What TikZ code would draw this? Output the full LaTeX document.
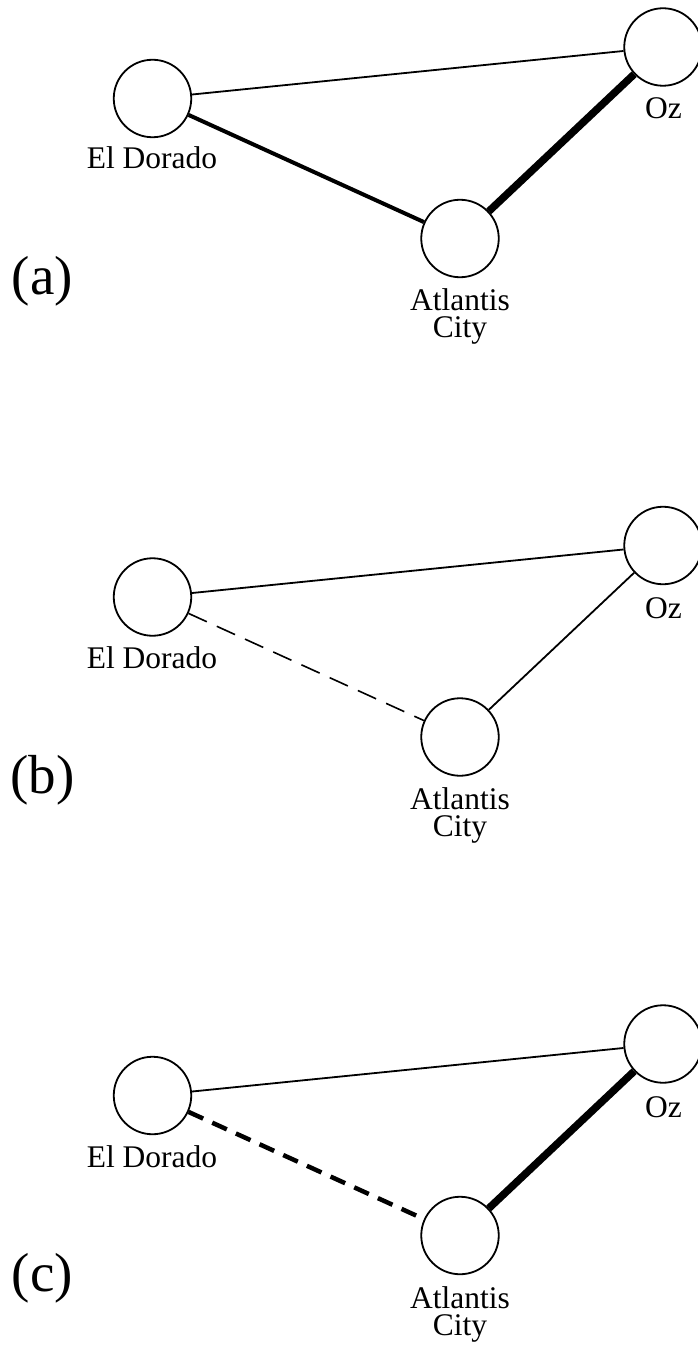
\documentclass[tikz,border=0pt]{standalone}
\usepackage{fontspec}
\setmainfont{Liberation Serif}

\begin{document}
\begin{tikzpicture}[x=1pt,y=-1pt,font=\fontsize{31.5}{27}\selectfont,
city/.style={draw,circle,minimum size=77.5pt,inner sep=0,line width=1.8pt,fill=white},
road/.style={line width=1.8pt},wide/.style={line width=4pt},heavy/.style={line width=7.5pt},
trail/.style={line width=1.6pt,dash pattern=on 20pt off 11pt},heavytrail/.style={line width=4.5pt,dash pattern=on 16pt off 10pt},
tag/.style={anchor=base,inner sep=0,align=center},part/.style={anchor=base,inner sep=0,font=\fontsize{55}{60}\selectfont}]
\useasboundingbox (0,0) rectangle (697,1351);
% (a)
\node[city] (ed1) at (152.5,98.5){}; \node[city] (ac1) at (460,238.5){}; \node[city] (oz1) at (663,47){};
\draw[road] (ed1)--(oz1); \draw[wide] (ed1)--(ac1); \draw[heavy] (ac1)--(oz1);
\node[tag] (edl1) at (152,169){El Dorado}; \node[tag] (ozl1) at (663.5,119){Oz}; \node[tag] (acl1) at (460,337){Atlantis\\City}; \node[part] (pa) at (42.5,294){(a)};
% (b)
\node[city] (ed2) at (152.5,597){}; \node[city] (ac2) at (460,737){}; \node[city] (oz2) at (663,545.5){};
\draw[road] (ed2)--(oz2); \draw[trail] (ed2)--(ac2); \draw[road] (ac2)--(oz2);
\node[tag] (edl2) at (152,668){El Dorado}; \node[tag] (ozl2) at (663.5,618){Oz}; \node[tag] (acl2) at (460,836){Atlantis\\City}; \node[part] (pb) at (42.5,793){(b)};
% (c)
\node[city] (ed3) at (152.5,1095.5){}; \node[city] (ac3) at (460,1235.5){}; \node[city] (oz3) at (663,1044){};
\draw[road] (ed3)--(oz3); \draw[heavytrail] (ed3)--(ac3); \draw[heavy] (ac3)--(oz3);
\node[tag] (edl3) at (152,1167){El Dorado}; \node[tag] (ozl3) at (663.5,1117){Oz}; \node[tag] (acl3) at (460,1335){Atlantis\\City}; \node[part] (pc) at (42.5,1291){(c)};
\end{tikzpicture}
\end{document}
